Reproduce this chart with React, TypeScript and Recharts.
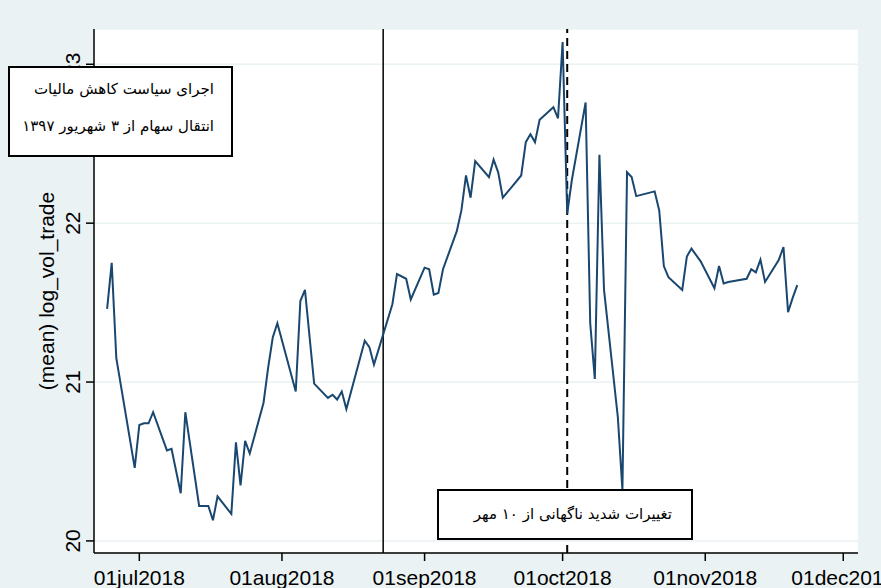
import { LineChart, Line, XAxis, YAxis, CartesianGrid, ReferenceLine } from 'recharts'

// trading dates and mean log volume
const dates = [
  '2018-06-24', '2018-06-25', '2018-06-26', '2018-06-30', '2018-07-01', '2018-07-02', '2018-07-03', '2018-07-04',
  '2018-07-07', '2018-07-08', '2018-07-10', '2018-07-11', '2018-07-14', '2018-07-16', '2018-07-17', '2018-07-18',
  '2018-07-21', '2018-07-22', '2018-07-23', '2018-07-24', '2018-07-25', '2018-07-28', '2018-07-29', '2018-07-30',
  '2018-07-31', '2018-08-04', '2018-08-05', '2018-08-06', '2018-08-08', '2018-08-11', '2018-08-12', '2018-08-13',
  '2018-08-14', '2018-08-15', '2018-08-19', '2018-08-20', '2018-08-21', '2018-08-25', '2018-08-26', '2018-08-28',
  '2018-08-29', '2018-09-01', '2018-09-02', '2018-09-03', '2018-09-04', '2018-09-05', '2018-09-08', '2018-09-09',
  '2018-09-10', '2018-09-11', '2018-09-12', '2018-09-15', '2018-09-16', '2018-09-17', '2018-09-18', '2018-09-22',
  '2018-09-23', '2018-09-24', '2018-09-25', '2018-09-26', '2018-09-29', '2018-09-30', '2018-10-01', '2018-10-02',
  '2018-10-03', '2018-10-06', '2018-10-07', '2018-10-08', '2018-10-09', '2018-10-10', '2018-10-13', '2018-10-14',
  '2018-10-15', '2018-10-16', '2018-10-17', '2018-10-21', '2018-10-22', '2018-10-23', '2018-10-24', '2018-10-27',
  '2018-10-28', '2018-10-29', '2018-10-31', '2018-11-03', '2018-11-04', '2018-11-05', '2018-11-06', '2018-11-10',
  '2018-11-11', '2018-11-12', '2018-11-13', '2018-11-14', '2018-11-17', '2018-11-18', '2018-11-19', '2018-11-20',
  '2018-11-21',
]

const logVolTrade = [
  21.46, 21.75, 21.15, 20.46, 20.73, 20.74, 20.74, 20.81,
  20.57, 20.58, 20.30, 20.81, 20.22, 20.22, 20.13, 20.28,
  20.17, 20.62, 20.35, 20.63, 20.55, 20.87, 21.09, 21.28,
  21.37, 20.94, 21.51, 21.58, 20.99, 20.90, 20.92, 20.89,
  20.94, 20.83, 21.26, 21.22, 21.11, 21.49, 21.68, 21.65,
  21.52, 21.72, 21.71, 21.55, 21.56, 21.71, 21.95, 22.08,
  22.30, 22.16, 22.39, 22.29, 22.40, 22.32, 22.16, 22.30,
  22.51, 22.56, 22.51, 22.65, 22.73, 22.66, 23.14, 22.06,
  22.27, 22.76, 21.37, 21.02, 22.43, 21.58, 20.78, 20.32,
  22.32, 22.29, 22.17, 22.20, 22.08, 21.73, 21.66, 21.58,
  21.79, 21.84, 21.76, 21.59, 21.73, 21.62, 21.63, 21.65,
  21.71, 21.69, 21.77, 21.63, 21.77, 21.85, 21.44, 21.53,
  21.61,
]

const tickDates = ['2018-07-01', '2018-08-01', '2018-09-01', '2018-10-01', '2018-11-01', '2018-12-01']
const tickLabels = ['01jul2018', '01aug2018', '01sep2018', '01oct2018', '01nov2018', '01dec2018']
const yTicks = [20, 21, 22, 23]

const policyDate = '2018-08-23'
const shockDate = '2018-10-02'

const BG = '#EAF2F3'
const NAVY = '#1A476F'
const FONT = '"Liberation Sans", Arial, sans-serif'

// days since 01jul2018
const day = (iso: string) => (Date.parse(iso + 'T00:00:00Z') - Date.parse('2018-07-01T00:00:00Z')) / 86400000

const data = dates.map((d, i) => ({ t: day(d), v: logVolTrade[i] }))
const xTicks = tickDates.map(day)

function YTick(props: { x?: number; y?: number; payload?: { value: number } }) {
  const { x = 0, y = 0, payload } = props
  return (
    <text
      transform={`translate(${x - 12},${y}) rotate(-90)`}
      textAnchor="middle"
      dominantBaseline="central"
      fontSize={21}
      fontFamily={FONT}
      fill="#000"
    >
      {payload?.value}
    </text>
  )
}

const boxStyle: React.CSSProperties = {
  position: 'absolute',
  background: '#fff',
  border: '2px solid #000',
  boxSizing: 'border-box',
  direction: 'rtl',
  fontFamily: '"DejaVu Sans", sans-serif',
  fontSize: 15,
  color: '#000',
  textAlign: 'right',
}

export default function App() {
  return (
    <div style={{ position: 'absolute', left: 0, top: 0, width: 881, height: 588, background: BG, overflow: 'hidden' }}>
      <LineChart width={881} height={588} data={data} margin={{ top: 29, right: 23, bottom: 0, left: 0 }}>
        <CartesianGrid horizontal vertical={false} stroke={BG} strokeWidth={1.5} fill="#ffffff" fillOpacity={1} />
        <XAxis
          type="number"
          dataKey="t"
          domain={[-9.85, 156.2]}
          allowDataOverflow
          ticks={xTicks}
          tickFormatter={(v: number) => tickLabels[xTicks.indexOf(v)] ?? ''}
          interval={0}
          height={35}
          tickSize={8}
          tickMargin={9}
          stroke="#000"
          strokeWidth={1.5}
          tick={{ fontSize: 21, fontFamily: FONT, fill: '#000' }}
        />
        <YAxis
          type="number"
          domain={[19.924, 23.222]}
          allowDataOverflow
          ticks={yTicks}
          interval={0}
          width={94}
          tickSize={8}
          stroke="#000"
          strokeWidth={1.5}
          tick={<YTick />}
          label={{
            value: '(mean) log_vol_trade',
            angle: -90,
            position: 'center',
            style: { fontSize: 21, fontFamily: FONT, fill: '#000' },
          }}
        />
        <ReferenceLine x={day(policyDate)} stroke="#000" strokeWidth={1.5} />
        <ReferenceLine x={day(shockDate)} stroke="#000" strokeWidth={2} strokeDasharray="8 5" />
        <Line
          type="linear"
          dataKey="v"
          stroke={NAVY}
          strokeWidth={2}
          dot={false}
          isAnimationActive={false}
        />
      </LineChart>

      <div style={{ ...boxStyle, left: 8, top: 66, width: 225, height: 91, padding: '3px 17px 0 0', lineHeight: '37px' }}>
        <div>اجرای سیاست کاهش مالیات</div>
        <div>انتقال سهام از ۳ شهریور ۱۳۹۷</div>
      </div>

      <div style={{ ...boxStyle, left: 437, top: 489, width: 256, height: 51, padding: '0 19px 0 0', lineHeight: '47px' }}>
        تغییرات شدید ناگهانی از ۱۰ مهر
      </div>
    </div>
  )
}
